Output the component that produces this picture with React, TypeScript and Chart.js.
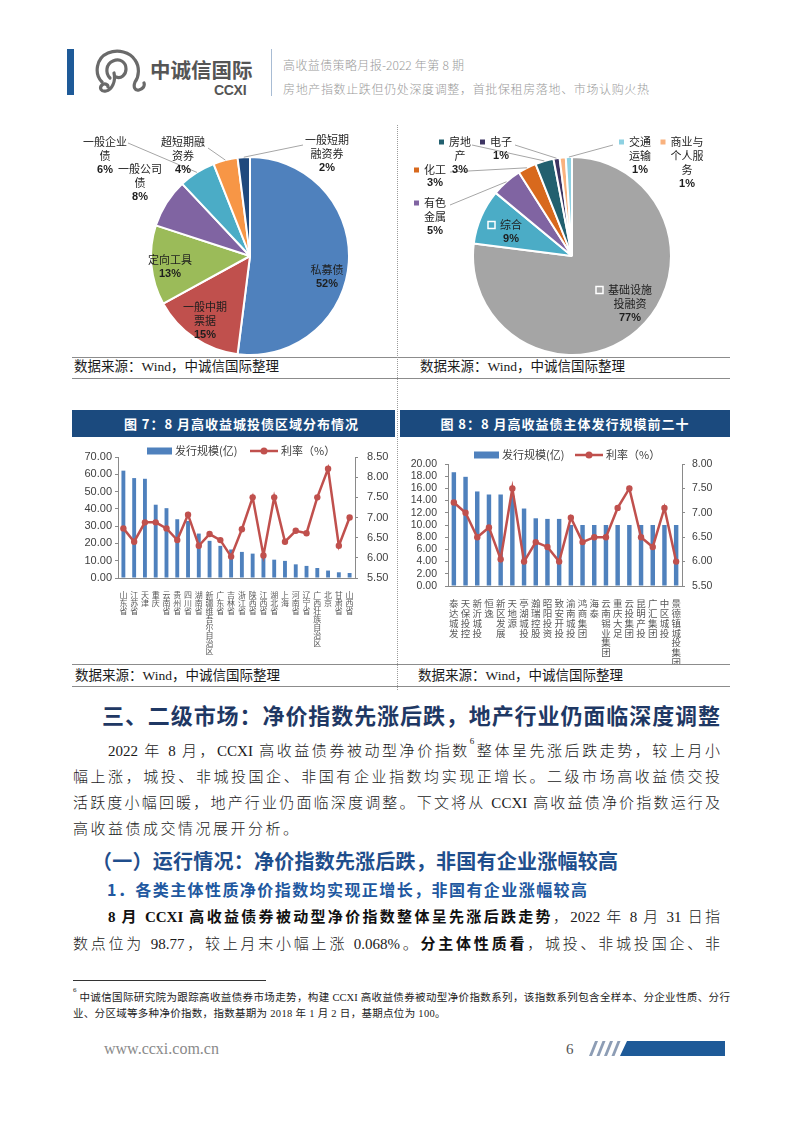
import React, { useEffect, useRef } from "react";
import { Chart, registerables } from "chart.js";
Chart.register(...registerables);

// ---------------- data ----------------
const bondTypeLabels = ["私募债", "一般中期票据", "定向工具", "一般公司债", "一般企业债", "超短期融资券", "一般短期融资券"];
const bondTypeShares = [52, 15, 13, 8, 6, 4, 2];

const industryLabels = ["基础设施投融资", "综合", "有色金属", "化工", "房地产", "电子", "商业与个人服务", "交通运输"];
const industryShares = [77, 9, 5, 3, 3, 1, 1, 1];

const regionCategories = ["山东省", "江苏省", "天津", "重庆", "云南省", "贵州省", "四川省", "湖南省", "新疆维吾尔自治区", "广东省", "吉林省", "浙江省", "陕西省", "江西省", "湖北省", "上海", "河南省", "辽宁省", "广西壮族自治区", "北京", "甘肃省", "山西省"];
const regionIssuance = [62.1, 57.8, 57.4, 42.4, 40.4, 34.0, 33.0, 25.7, 21.5, 18.6, 16.5, 15.1, 14.1, 12.4, 10.6, 9.9, 7.9, 7.0, 5.8, 4.3, 3.3, 2.9];
const regionRate = [6.73, 6.40, 6.88, 6.88, 6.73, 6.44, 7.07, 6.30, 6.59, 6.44, 6.03, 6.71, 7.50, 6.06, 7.50, 6.40, 6.67, 6.61, 7.50, 8.21, 6.30, 7.00];

const issuerCategories = ["泰达城发", "天保投控", "新沂城投", "恒逸", "新区发展", "天地源", "亭湖城投", "瀚瑞控股", "昭阳投资", "致安开投", "渝南城投", "鸿商集团", "海泰", "云南锡业集团", "重庆大足", "云投集团", "昆明产投", "广汇集团", "中区城投", "景德镇城投集团"];
const issuerIssuance = [18.65, 17.9, 15.5, 15.0, 15.0, 14.8, 12.7, 11.1, 11.0, 11.0, 10.0, 10.0, 10.0, 10.0, 10.0, 10.0, 10.0, 10.0, 10.0, 10.0];
const issuerRate = [7.21, 7.0, 6.5, 6.7, 6.05, 7.5, 6.0, 6.4, 6.3, 6.0, 6.9, 6.4, 6.5, 6.5, 7.1, 7.5, 6.5, 6.3, 7.1, 6.0];

const seriesNames = ["发行规模(亿)", "利率（%）"];

// ---------------- styles ----------------
const bondTypeColors = ["#4F81BD", "#C0504D", "#9BBB59", "#8064A2", "#4BACC6", "#F79646", "#1F497D"];
const industryColors = ["#A5A5A5", "#4BACC6", "#8064A2", "#D8691D", "#22606F", "#3D3462", "#F9B27E", "#8ED1E2"];
const BAR_BLUE = "#4F81BD";
const LINE_RED = "#C0504D";
const CJK = '"Noto Sans CJK SC", sans-serif';
const BODY = '"Liberation Serif", "Noto Sans CJK SC", serif';
const NUM = '"Liberation Sans", Arial, sans-serif';

type PieLabel = { breaks: number[]; dx: number; dy: number; leader?: [number, number]; marker?: "key" | "inner"; lh?: number };

const bondTypeLabelLayout: PieLabel[] = [
  { breaks: [3], dx: 77, dy: 14 },
  { breaks: [4, 2], dx: -45, dy: 51 },
  { breaks: [4], dx: -80, dy: 4 },
  { breaks: [4, 1], dx: -110, dy: -87 },
  { breaks: [4, 1], dx: -145, dy: -114, leader: [-122, -113] },
  { breaks: [4, 2], dx: -67, dy: -114, leader: [-42, -108] },
  { breaks: [4, 3], dx: 77, dy: -116, leader: [53, -111] },
];

const industryLabelLayout: PieLabel[] = [
  { breaks: [4, 3], dx: 58, dy: 34, marker: "inner" },
  { breaks: [2], dx: -61, dy: -31, marker: "inner" },
  { breaks: [2, 2], dx: -137, dy: -53, marker: "key", leader: [-122, -51] },
  { breaks: [2], dx: -137, dy: -86, marker: "key", leader: [-122, -84], lh: 13 },
  { breaks: [2, 1], dx: -112, dy: -114, marker: "key", leader: [-100, -111] },
  { breaks: [2], dx: -71, dy: -114, marker: "key", leader: [-57, -111] },
  { breaks: [3, 3, 1], dx: 115, dy: -114, marker: "key" },
  { breaks: [2, 2], dx: 68, dy: -114, marker: "key", leader: [41, -111] },
];

function splitLabel(name: string, breaks: number[]) {
  const chars = Array.from(name);
  const out: string[] = [];
  let i = 0;
  for (const b of breaks) {
    out.push(chars.slice(i, i + b).join(""));
    i += b;
  }
  if (i < chars.length) out.push(chars.slice(i).join(""));
  return out;
}

const pieLabelPlugin = (layout: PieLabel[]) => ({
  id: "pieLabels",
  afterDatasetsDraw(chart: any) {
    const ctx = chart.ctx;
    const meta = chart.getDatasetMeta(0);
    const ds = chart.data.datasets[0];
    const names = chart.data.labels as string[];
    meta.data.forEach((arc: any, i: number) => {
      const L = layout[i];
      if (!L) return;
      const p = arc.getProps(["x", "y", "startAngle", "endAngle", "outerRadius"], true);
      const cx = p.x, cy = p.y;
      const lh = L.lh ?? 14;
      ctx.save();
      if (L.leader) {
        const a = (p.startAngle + p.endAngle) / 2;
        const ex = cx + Math.cos(a) * p.outerRadius;
        const ey = cy + Math.sin(a) * p.outerRadius;
        ctx.strokeStyle = "#A6A6A6";
        ctx.lineWidth = 1;
        ctx.beginPath();
        ctx.moveTo(cx + L.leader[0], cy + L.leader[1]);
        ctx.lineTo(ex, ey);
        ctx.stroke();
      }
      const lines = [...splitLabel(names[i], L.breaks), `${ds.data[i]}%`];
      ctx.textAlign = "center";
      ctx.textBaseline = "middle";
      ctx.fillStyle = "#1e1e1e";
      lines.forEach((t, k) => {
        ctx.font = /%$/.test(t) ? `bold 11px ${NUM}` : `11px ${CJK}`;
        ctx.fillText(t, cx + L.dx, cy + L.dy + k * lh);
      });
      if (L.marker) {
        ctx.font = `11px ${CJK}`;
        const w = ctx.measureText(lines[0]).width;
        const col = ds.backgroundColor[i];
        if (L.marker === "key") {
          const s = 5;
          ctx.fillStyle = col;
          ctx.fillRect(cx + L.dx - w / 2 - 5 - s, cy + L.dy - s / 2, s, s);
        } else {
          const s = 7;
          const x0 = cx + L.dx - w / 2 - 5 - s;
          ctx.fillStyle = col;
          ctx.fillRect(x0, cy + L.dy - s / 2, s, s);
          ctx.strokeStyle = "#ffffff";
          ctx.lineWidth = 1.5;
          ctx.strokeRect(x0, cy + L.dy - s / 2, s, s);
        }
      }
      ctx.restore();
    });
  },
});

function makePie(labels: string[], data: number[], colors: string[], layout: PieLabel[], padding: any) {
  return {
    type: "pie",
    data: {
      labels,
      datasets: [{ data, backgroundColor: colors, borderColor: "#ffffff", borderWidth: 2, hoverOffset: 0, hoverBorderWidth: 2 }],
    },
    options: {
      responsive: false,
      animation: false,
      events: [],
      layout: { padding },
      plugins: { legend: { display: false }, tooltip: { enabled: false } },
    },
    plugins: [pieLabelPlugin(layout)],
  };
}

const comboLegendPlugin = (lg: { y: number; barX: number; lineX: number }) => ({
  id: "comboLegend",
  afterDraw(chart: any) {
    const ctx = chart.ctx;
    const barDs = chart.data.datasets[1];
    const lineDs = chart.data.datasets[0];
    ctx.save();
    ctx.fillStyle = BAR_BLUE;
    ctx.fillRect(lg.barX, lg.y - 3.5, 25, 7);
    ctx.font = `11px ${CJK}`;
    ctx.textBaseline = "middle";
    ctx.textAlign = "left";
    ctx.fillStyle = "#404040";
    ctx.fillText(barDs.label, lg.barX + 28, lg.y);
    ctx.strokeStyle = LINE_RED;
    ctx.lineWidth = 2.5;
    ctx.beginPath();
    ctx.moveTo(lg.lineX, lg.y);
    ctx.lineTo(lg.lineX + 28, lg.y);
    ctx.stroke();
    ctx.fillStyle = LINE_RED;
    ctx.beginPath();
    ctx.arc(lg.lineX + 14, lg.y, 3.5, 0, Math.PI * 2);
    ctx.fill();
    ctx.fillStyle = "#404040";
    ctx.fillText(lineDs.label, lg.lineX + 31, lg.y);
    ctx.restore();
  },
});

type ComboOpts = {
  cats: string[]; bars: number[]; rates: number[];
  yMax: number; yStep: number; y1Min: number; y1Max: number;
  leftW: number; rightW: number; xH: number; padTop: number;
  tickFont: number; labelFont: number; labelLH: number; yPad: number; y1Pad: number; xPad: number;
  barPct: number; legend: { y: number; barX: number; lineX: number };
};

function makeCombo(o: ComboOpts) {
  const axisGrey = "#8a8a8a";
  const yTicks = (step: number, pad: number) => ({
    stepSize: step,
    autoSkip: false,
    padding: pad,
    color: "#404040",
    font: { family: NUM, size: o.tickFont, lineHeight: 1 },
    callback: (v: any) => Number(v).toFixed(2),
  });
  const yGrid = { drawOnChartArea: false, drawTicks: true, tickLength: 3, color: axisGrey };
  return {
    type: "bar",
    data: {
      labels: o.cats.map((c) => Array.from(c)),
      datasets: [
        {
          type: "line", label: seriesNames[1], data: o.rates, yAxisID: "y1",
          borderColor: LINE_RED, backgroundColor: LINE_RED, borderWidth: 2.5,
          pointRadius: 3.2, pointBorderWidth: 0, pointBackgroundColor: LINE_RED, tension: 0, order: 0,
        },
        {
          type: "bar", label: seriesNames[0], data: o.bars, yAxisID: "y",
          backgroundColor: BAR_BLUE, barPercentage: o.barPct, categoryPercentage: 1, order: 1,
        },
      ],
    },
    options: {
      responsive: false,
      animation: false,
      events: [],
      layout: { padding: { top: o.padTop, left: 0, right: 0, bottom: 0 } },
      plugins: { legend: { display: false }, tooltip: { enabled: false } },
      scales: {
        x: {
          grid: { display: false },
          border: { display: true, color: axisGrey, width: 1 },
          ticks: {
            autoSkip: false, maxRotation: 0, minRotation: 0, padding: o.xPad, color: "#595959",
            font: { family: CJK, size: o.labelFont, lineHeight: o.labelLH },
          },
          afterFit: (s: any) => { s.height = o.xH; },
        },
        y: {
          position: "left", min: 0, max: o.yMax,
          ticks: yTicks(o.yStep, o.yPad), grid: yGrid,
          border: { display: true, color: axisGrey },
          afterFit: (s: any) => { s.width = o.leftW; },
        },
        y1: {
          position: "right", min: o.y1Min, max: o.y1Max,
          ticks: yTicks(0.5, o.y1Pad), grid: yGrid,
          border: { display: true, color: axisGrey },
          afterFit: (s: any) => { s.width = o.rightW; },
        },
      },
    },
    plugins: [comboLegendPlugin(o.legend)],
  };
}

function ChartCanvas({ x, y, w, h, make }: { x: number; y: number; w: number; h: number; make: () => any }) {
  const ref = useRef<HTMLCanvasElement>(null);
  useEffect(() => {
    const chart = new Chart(ref.current as HTMLCanvasElement, make());
    return () => chart.destroy();
  }, []);
  return (
    <canvas ref={ref} width={w} height={h}
      style={{ position: "absolute", left: x, top: y, width: w, height: h }} />
  );
}

function Line(props: any) {
  const { x, y, w, size, color = "#1a1a1a", weight = 400, family = BODY, justify = false, ls = 0, children } = props;
  const lh = Math.round(size * 1.6);
  return (
    <div style={{
      position: "absolute", left: x, top: y - lh / 2, width: w ?? "auto", height: lh,
      lineHeight: lh + "px", fontSize: size, color, fontWeight: weight, fontFamily: family,
      letterSpacing: ls, textAlign: justify ? "justify" : "left",
      textAlignLast: justify ? "justify" : "auto", whiteSpace: justify ? "normal" : "nowrap",
    } as any}>{children}</div>
  );
}

const Box = ({ x, y, w, h, bg, style }: any) => (
  <div style={{ position: "absolute", left: x, top: y, width: w, height: h, background: bg, ...style }} />
);

const sup = (t: string, size: number) => (
  <span style={{ fontSize: size, verticalAlign: "top", lineHeight: 1, position: "relative", top: -2 }}>{t}</span>
);

const B = ({ children }: any) => <span style={{ fontWeight: 700, color: "#111" }}>{children}</span>;

export default function App() {
  const source = "数据来源：Wind，中诚信国际整理";
  return (
    <div style={{ position: "absolute", left: 0, top: 0, width: 802, height: 1133, background: "#fff", overflow: "hidden" }}>
      {/* header */}
      <Box x={67} y={49} w={7} h={46} bg="#1E5A98" />
      <svg width={58} height={48} viewBox="0 0 58 48" style={{ position: "absolute", left: 93, top: 49 }}
        fill="none" stroke="#6a6a6a" strokeWidth={3.2} strokeLinecap="round">
        <path d="M9 33 C1 25 3 9 15 4 C25 0 37 3 42 11 C47 18 46 28 42 33 C40 38 42 42 46 41 C50 40 52 37 51 34" />
        <path d="M17 29 C12 24 13 15 20 12 C27 9 33 13 33 20 C33 26 28 30 23 28" />
        <path d="M21 24 C23 32 19 41 13 42 C8 43 6 39 9 36 C11 34 15 35 15 38" />
      </svg>
      <Line x={150} y={69} size={20.5} weight={700} color="#555" family={CJK}>中诚信国际</Line>
      <Line x={214} y={90} size={14} weight={700} color="#555" family={NUM} ls={-0.3}>CCXI</Line>
      <Box x={271} y={49} w={1} h={47} bg="#a8bcd4" />
      <Line x={283} y={64} w={181} size={12} weight={300} color="#9a9a9a" family={CJK} justify>高收益债策略月报-2022 年第 8 期</Line>
      <Line x={283} y={88} w={366} size={12} weight={300} color="#9a9a9a" family={CJK} justify>房地产指数止跌但仍处深度调整，首批保租房落地、市场认购火热</Line>

      {/* top row: pies */}
      <ChartCanvas x={72} y={125} w={323} h={231}
        make={() => makePie(bondTypeLabels, bondTypeShares, bondTypeColors, bondTypeLabelLayout, { left: 78, right: 45, top: 31, bottom: 0 })} />
      <ChartCanvas x={400} y={125} w={330} h={231}
        make={() => makePie(industryLabels, industryShares, industryColors, industryLabelLayout, { left: 72, right: 58, top: 31, bottom: 0 })} />
      <Box x={72} y={357} w={658} h={1} bg="#8c8c8c" />
      <Line x={74} y={367} size={13.5} color="#1a1a1a">{source}</Line>
      <Line x={420} y={367} size={13.5} color="#1a1a1a">{source}</Line>
      <Box x={72} y={378} w={658} h={1} bg="#8c8c8c" />
      <div style={{ position: "absolute", left: 397, top: 125, width: 0, height: 565, borderLeft: "1px dotted #9a9a9a" }} />

      {/* second row */}
      <div style={{ position: "absolute", left: 72, top: 410, width: 323, height: 27, background: "#1B4A7E", color: "#fff", fontFamily: CJK, fontWeight: 700, fontSize: 13, letterSpacing: 1, lineHeight: "27px", textAlign: "center", boxSizing: "border-box", paddingLeft: 16 }}>图 7：8 月高收益城投债区域分布情况</div>
      <div style={{ position: "absolute", left: 400, top: 410, width: 330, height: 27, background: "#1B4A7E", color: "#fff", fontFamily: CJK, fontWeight: 700, fontSize: 13, letterSpacing: 1, lineHeight: "27px", textAlign: "center" }}>图 8：8 月高收益债主体发行规模前二十</div>

      <ChartCanvas x={72} y={440} w={323} h={224}
        make={() => makeCombo({
          cats: regionCategories, bars: regionIssuance, rates: regionRate,
          yMax: 70, yStep: 10, y1Min: 5.5, y1Max: 8.5,
          leftW: 46, rightW: 40, xH: 86, padTop: 17,
          tickFont: 11, labelFont: 8, labelLH: 1, yPad: 3, y1Pad: 9, xPad: 5,
          barPct: 0.36, legend: { y: 11, barX: 75, lineX: 178 },
        })} />
      <ChartCanvas x={400} y={440} w={330} h={224}
        make={() => makeCombo({
          cats: issuerCategories, bars: issuerIssuance, rates: issuerRate,
          yMax: 20, yStep: 2, y1Min: 5.5, y1Max: 8.0,
          leftW: 48, rightW: 48, xH: 78, padTop: 24,
          tickFont: 10.5, labelFont: 9.5, labelLH: 1.02, yPad: 8, y1Pad: 7, xPad: 5,
          barPct: 0.38, legend: { y: 15, barX: 74, lineX: 175 },
        })} />
      <Box x={72} y={664} w={658} h={1} bg="#8c8c8c" />
      <Line x={75} y={676} size={13.5} color="#1a1a1a">{source}</Line>
      <Line x={418} y={676} size={13.5} color="#1a1a1a">{source}</Line>
      <Box x={72} y={686} w={658} h={1} bg="#8c8c8c" />

      {/* section text */}
      <Line x={102} y={714} w={618} size={22} weight={700} color="#1F3864" family={CJK} justify>三、二级市场：净价指数先涨后跌，地产行业仍面临深度调整</Line>
      <Line x={108} y={751} w={612} size={15} weight={300} justify>2022 年 8 月，CCXI 高收益债券被动型净价指数{sup("6", 9)}整体呈先涨后跌走势，较上月小</Line>
      <Line x={73} y={777} w={647} size={15} weight={300} justify>幅上涨，城投、非城投国企、非国有企业指数均实现正增长。二级市场高收益债交投</Line>
      <Line x={73} y={803} w={647} size={15} weight={300} justify>活跃度小幅回暖，地产行业仍面临深度调整。下文将从 CCXI 高收益债净价指数运行及</Line>
      <Line x={73} y={829} size={15} weight={300} ls={2.5}>高收益债成交情况展开分析。</Line>

      <Line x={92} y={861} w={526} size={20} weight={700} color="#1F4E8C" family={CJK} justify>（一）运行情况：净价指数先涨后跌，非国有企业涨幅较高</Line>
      <Line x={107} y={889} w={480} size={16} weight={700} color="#2158A0" family={CJK} justify>1．各类主体性质净价指数均实现正增长，非国有企业涨幅较高</Line>
      <Line x={108} y={917} w={612} size={15} weight={300} justify><B>8 月 CCXI 高收益债券被动型净价指数整体呈先涨后跌走势</B>，2022 年 8 月 31 日指</Line>
      <Line x={73} y={944} w={647} size={15} weight={300} justify>数点位为 98.77，较上月末小幅上涨 0.068%。<B>分主体性质看</B>，城投、非城投国企、非</Line>

      {/* footnote */}
      <Box x={73} y={980} w={193} h={1} bg="#333" />
      <Line x={73} y={997} w={657} size={10.5} color="#222" justify>{sup("6", 7)} 中诚信国际研究院为跟踪高收益债券市场走势，构建 CCXI 高收益债券被动型净价指数系列，该指数系列包含全样本、分企业性质、分行</Line>
      <Line x={73} y={1013} size={10.5} color="#222" ls={0.3}>业、分区域等多种净价指数，指数基期为 2018 年 1 月 2 日，基期点位为 100。</Line>

      {/* footer */}
      <Line x={104} y={1049} size={16} color="#8a8a8a" family={BODY}>www.ccxi.com.cn</Line>
      <Line x={566} y={1049} size={15} color="#555" family={BODY}>6</Line>
      <svg width={140} height={16} style={{ position: "absolute", left: 587, top: 1041 }}>
        {[0, 1, 2, 3].map((i) => {
          const x0 = 2 + i * 7.5;
          return <polygon key={i} points={`${x0 + 6},0 ${x0 + 9},0 ${x0 + 3},15 ${x0},15`} fill="#8d9db5" />;
        })}
        <polygon points="40,0 138,0 138,15 33,15" fill="#1E5A98" />
      </svg>
    </div>
  );
}
